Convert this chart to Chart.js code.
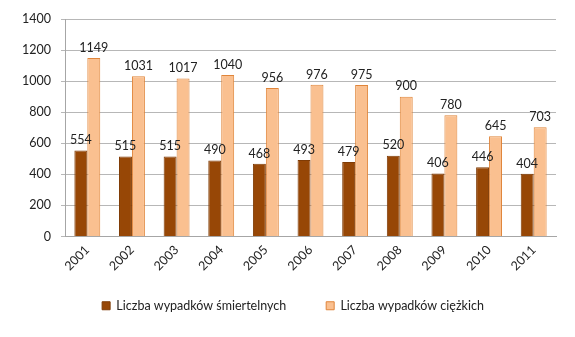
<!DOCTYPE html>
<html>
<head>
<meta charset="utf-8">
<script src="https://cdn.jsdelivr.net/npm/chart.js@4/dist/chart.umd.min.js"></script>
<style>
  html, body { margin: 0; padding: 0; background: #fff; }
  #wrap { width: 575px; height: 337px; position: relative; }
</style>
</head>
<body>
<div id="wrap"><canvas id="c"></canvas></div>
<script>
const years = ['2001','2002','2003','2004','2005','2006','2007','2008','2009','2010','2011'];
const fatal = [554, 515, 515, 490, 468, 493, 479, 520, 406, 446, 404];
const serious = [1149, 1031, 1017, 1040, 956, 976, 975, 900, 780, 645, 703];
const yTicks = [0, 200, 400, 600, 800, 1000, 1200, 1400];

const FONT = 'Lato, "Open Sans", sans-serif';

// Value labels drawn above each bar
const valueLabels = {
  id: 'valueLabels',
  afterDatasetsDraw(chart) {
    const ctx = chart.ctx;
    ctx.save();
    ctx.font = '12.5px ' + FONT;
    ctx.fillStyle = '#222';
    ctx.textAlign = 'center';
    ctx.textBaseline = 'bottom';
    chart.data.datasets.forEach((ds, i) => {
      chart.getDatasetMeta(i).data.forEach((bar, j) => {
        ctx.fillText(String(ds.data[j]), bar.x, bar.y - 4);
      });
    });
    ctx.restore();
  }
};

// Nudge the legend block up and to the right after layout
const legendOffset = {
  id: 'legendOffset',
  afterLayout(chart) {
    const lg = chart.legend;
    if (!lg) return;
    const dy = -15, dx = 15;
    lg.top += dy; lg.bottom += dy;
    lg.left += dx; lg.right += dx;
  }
};

new Chart(document.getElementById('c'), {
  type: 'bar',
  data: {
    labels: years,
    datasets: [
      {
        label: 'Liczba wypadków śmiertelnych',
        data: fatal,
        backgroundColor: '#974706',
        borderColor: '#7f3b05',
        borderWidth: 1
      },
      {
        label: 'Liczba wypadków ciężkich',
        data: serious,
        backgroundColor: '#fac090',
        borderColor: '#e0853a',
        borderWidth: 1
      }
    ]
  },
  options: {
    responsive: true,
    maintainAspectRatio: false,
    animation: false,
    layout: { padding: { top: 19, right: 19, left: 0, bottom: 0 } },
    datasets: { bar: { categoryPercentage: 0.58, barPercentage: 1.0 } },
    scales: {
      x: {
        grid: { display: false, drawTicks: false },
        border: { color: '#a6a6a6' },
        afterFit(axis) { axis.height = 38; },
        ticks: {
          font: { family: FONT, size: 12.5 },
          color: '#222',
          maxRotation: 45,
          minRotation: 45,
          padding: 6
        }
      },
      y: {
        min: 0,
        max: 1400,
        afterBuildTicks(axis) { axis.ticks = yTicks.map(v => ({ value: v })); },
        afterFit(axis) { axis.width = 65; },
        grid: { color: '#b7b7b7', drawTicks: true, tickLength: 4 },
        border: { color: '#a6a6a6' },
        ticks: {
          font: { family: FONT, size: 12.5 },
          color: '#222',
          padding: 10,
          callback: v => String(v)
        }
      }
    },
    plugins: {
      legend: {
        position: 'bottom',
        labels: {
          font: { family: FONT, size: 12.5 },
          color: '#222',
          boxWidth: 8,
          boxHeight: 8,
          padding: 40
        }
      },
      tooltip: { enabled: false }
    }
  },
  plugins: [valueLabels, legendOffset]
});
</script>
</body>
</html>
